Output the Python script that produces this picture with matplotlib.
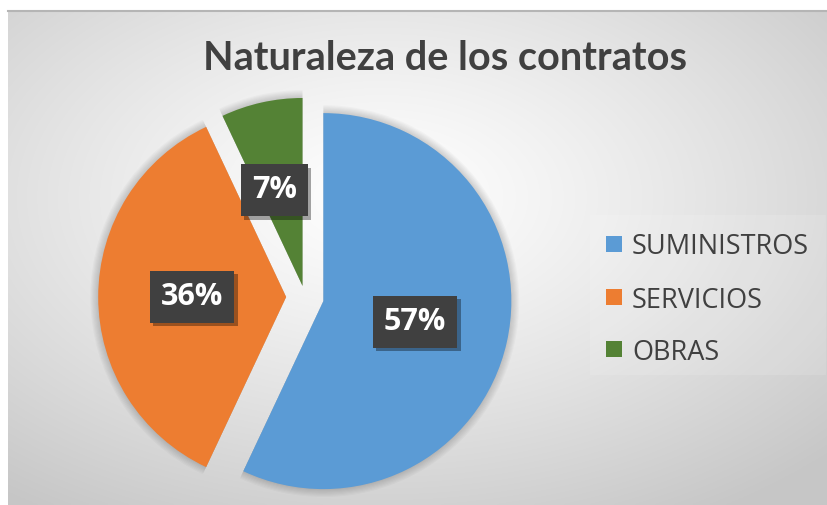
import numpy as np
import matplotlib.pyplot as plt
from matplotlib import patheffects as pe
from matplotlib.patches import Rectangle

labels = ['SUMINISTROS', 'SERVICIOS', 'OBRAS']
shares = [57, 36, 7]
colors = ['#5B9BD5', '#ED7D31', '#548235']
title = 'Naturaleza de los contratos'

W, H = 828, 505
fig = plt.figure(figsize=(W / 100, H / 100), dpi=100)
fig.patch.set_facecolor('white')

# chart area with radial gradient background
bg = fig.add_axes([8 / W, 0, (W - 8) / W, (H - 11) / H])
yy, xx = np.mgrid[0:200, 0:330]
cx, cy = 150, 75
d = np.sqrt(((xx - cx) / 330.0) ** 2 + ((yy - cy) / 200.0) ** 2)
d = np.clip(d / 0.75, 0, 1)
shade = 1.0 - 0.22 * d ** 1.2
img = np.dstack([shade, shade, shade])
bg.imshow(img, extent=[0, 1, 0, 1], aspect='auto', origin='upper', interpolation='bilinear')
bg.set_xlim(0, 1)
bg.set_ylim(0, 1)
bg.axis('off')
bg.plot([0, 1], [1, 1], color='#b5b5b5', lw=1.5, transform=bg.transAxes, clip_on=False)

fig.text(445 / W, 1 - 58 / H, title, ha='center', va='center', fontsize=28.5,
         fontweight='bold', color='#404040', family='Lato')

# pie axes: center at (305, 297) px, radius 188 px
R = 188
cxp, cyp = 305, 297
half = 1.15 * R
ax = fig.add_axes([(cxp - half) / W, (H - cyp - half) / H, 2 * half / W, 2 * half / H])
ax.set_xlim(-1.15, 1.15)
ax.set_ylim(-1.15, 1.15)
ax.axis('off')

explode = [0.1, 0.1, 0.06]
# soft shadow
for k in range(8):
    ax.pie(shares, explode=explode, startangle=90, counterclock=False,
           radius=1 + 0.006 * k, colors=['black'] * 3,
           wedgeprops=dict(alpha=0.025, linewidth=0), frame=False)

wedges, texts, autotexts = ax.pie(
    shares, explode=explode, startangle=90, counterclock=False, colors=colors,
    autopct='%d%%', pctdistance=0.5, wedgeprops=dict(linewidth=0),
    textprops=dict(color='white', fontsize=22, fontweight='bold', family='Open Sans'),
    frame=False)
ax.set_xlim(-1.15, 1.15)
ax.set_ylim(-1.15, 1.15)
autotexts[2].set_position((autotexts[2].get_position()[0] - 0.04,
                           autotexts[2].get_position()[1] + 0.02))

for t in autotexts:
    t.set_bbox(dict(boxstyle='square,pad=0.36', facecolor='#404040', edgecolor='none'))
    t.get_bbox_patch().set_path_effects([
        pe.SimplePatchShadow(offset=(2.5, -2.5), shadow_rgbFace='black', alpha=0.35),
        pe.Normal()])

# legend
leg_bg = Rectangle((590 / W, 1 - 375 / H), 236 / W, 160 / H, transform=fig.transFigure,
                   facecolor='white', alpha=0.12, edgecolor='none')
fig.patches.append(leg_bg)
row_y = [244, 297, 349]
for lab, col, y in zip(labels, colors, row_y):
    fig.patches.append(Rectangle((606 / W, 1 - (y + 8) / H), 16 / W, 16 / H,
                                 transform=fig.transFigure, facecolor=col, edgecolor='none'))
    fig.text(632 / W, 1 - y / H, lab, ha='left', va='center_baseline', fontsize=19.5,
             color='#404040', family='Open Sans')

fig.savefig('out.png', dpi=100)
